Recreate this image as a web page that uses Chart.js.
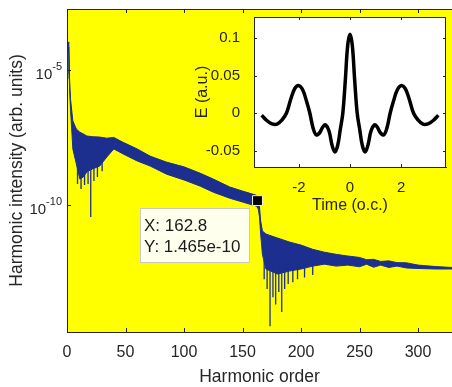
<!DOCTYPE html>
<html>
<head>
<meta charset="utf-8">
<script src="https://cdn.jsdelivr.net/npm/chart.js@4.4.0/dist/chart.umd.min.js"></script>
<style>
  html, body { margin: 0; padding: 0; background: #fff; }
  #wrap { position: relative; width: 452px; height: 387px; overflow: hidden; }
  #main { position: absolute; left: 0; top: 0; }
  #inset { position: absolute; left: 190px; top: 0; }
</style>
</head>
<body>
<div id="wrap">
  <canvas id="main" width="452" height="387" style="width:452px;height:387px"></canvas>
  <canvas id="inset" width="262" height="215" style="width:262px;height:215px"></canvas>
</div>
<script>
const FONT = "'Liberation Sans', Arial, Helvetica, sans-serif";
const INK = '#262626';
const BLUE = '#1c2f8e';

// spectrum band (harmonic order, upper and lower edge)
const harmX = [0, 0.8, 1.5, 2.2, 3, 5, 8, 11, 14, 17, 22, 28, 34, 40, 48, 60, 71, 85, 100, 114, 125, 139, 150, 162, 163.5, 164.5, 165.5, 167, 170, 180, 190, 200, 210, 220, 230, 240, 250, 256, 262, 268, 275, 282, 290, 300, 315, 329];
const bandUpper = [7.1e-6, 6.0e-5, 1.1e-4, 4.7e-6, 8.5e-7, 1.3e-7, 6.5e-8, 5.0e-8, 4.3e-8, 3.6e-8, 3.4e-8, 3.3e-8, 3.0e-8, 3.2e-8, 2.1e-8, 1.2e-8, 6.5e-9, 3.9e-9, 2.6e-9, 1.5e-9, 9.2e-10, 4.7e-10, 3.3e-10, 2.3e-10, 1.7e-10, 8.5e-11, 2.6e-11, 1.1e-11, 8.5e-12, 6.0e-12, 4.3e-12, 3.3e-12, 2.3e-12, 1.8e-12, 1.5e-12, 1.3e-12, 1.15e-12, 9.5e-13, 9.8e-13, 8.2e-13, 8.6e-13, 7.4e-13, 7.3e-13, 6.0e-13, 5.3e-13, 4.9e-13];
const bandLower = [4.7e-6, 3.9e-5, 7.1e-5, 2.0e-6, 3.6e-7, 1.2e-8, 3.3e-9, 9.2e-10, 1.1e-9, 1.7e-9, 2.2e-9, 2.8e-9, 6.0e-9, 1.2e-8, 7.8e-9, 4.3e-9, 2.8e-9, 1.4e-9, 8.5e-10, 5.0e-10, 3.0e-10, 1.8e-10, 1.3e-10, 9.1e-11, 7.1e-11, 3.6e-11, 8.5e-12, 1.5e-12, 4.3e-13, 2.8e-13, 3.6e-13, 4.3e-13, 5.5e-13, 6.5e-13, 5.5e-13, 6.0e-13, 5.2e-13, 6.5e-13, 5.0e-13, 6.0e-13, 4.9e-13, 5.5e-13, 4.7e-13, 4.5e-13, 4.3e-13, 4.3e-13];

// deep dips below the band
const dipX = [9, 12, 15, 18, 20.3, 23, 26, 30, 168.5, 171, 173.5, 176, 178.3, 181, 183.5, 186, 189, 193, 197, 203, 210];
const dipTop = [3e-9, 2e-9, 2e-9, 2e-9, 2e-9, 3e-9, 3e-9, 4e-9, 1e-12, 1e-12, 1e-12, 1e-12, 1e-12, 1e-12, 1e-12, 1e-12, 1e-12, 1e-12, 1e-12, 1e-12, 1e-12];
const dipBottom = [6.0e-10, 3.9e-10, 5.5e-10, 6.0e-10, 3.6e-11, 7.8e-10, 1.1e-9, 1.8e-9, 1.8e-13, 7.8e-14, 3.3e-15, 3.9e-14, 2.1e-14, 6.0e-14, 1.1e-14, 7.8e-14, 1.2e-13, 1.4e-13, 1.8e-13, 2.1e-13, 2.6e-13];

// data tip
const tipX = 162.8;
const tipY = 1.465e-10;

// main axes
const xTicks = [0, 50, 100, 150, 200, 250, 300];
const yTicks = [1e-5, 1e-10];
const yMin = 2.0e-15, yMax = 1.82e-3;

// inset: driving field
const timeOc = [-3.45, -3.25, -3.05, -2.85, -2.65, -2.48, -2.3, -2.15, -2.0, -1.85, -1.7, -1.57, -1.45, -1.33, -1.2, -1.05, -0.95, -0.82, -0.7, -0.59, -0.48, -0.38, -0.28, -0.18, -0.09, 0,
                0.09, 0.18, 0.28, 0.38, 0.48, 0.59, 0.7, 0.82, 0.95, 1.05, 1.2, 1.33, 1.45, 1.57, 1.7, 1.85, 2.0, 2.15, 2.3, 2.48, 2.65, 2.85, 3.05, 3.25, 3.45];
const fieldE = [-0.003, -0.010, -0.0145, -0.0148, -0.009, 0.0, 0.020, 0.033, 0.0365, 0.031, 0.016, 0.0, -0.019, -0.029, -0.027, -0.018, -0.016, -0.024, -0.043, -0.052, -0.043, -0.022, 0.0, 0.045, 0.090, 0.105,
                0.090, 0.045, 0.0, -0.022, -0.043, -0.052, -0.043, -0.024, -0.016, -0.018, -0.027, -0.029, -0.019, 0.0, 0.016, 0.031, 0.0365, 0.033, 0.020, 0.0, -0.009, -0.0148, -0.0145, -0.010, -0.003];
const insetXTicks = [-2, 0, 2];
const insetYTicks = [-0.05, 0, 0.05, 0.1];

const upperPts = harmX.map((h, i) => ({x: h, y: bandUpper[i]}));
const lowerPts = harmX.map((h, i) => ({x: h, y: bandLower[i]}));
const dipPts = [];
dipX.forEach((h, i) => {
  dipPts.push({x: h, y: dipTop[i]}, {x: h, y: dipBottom[i]}, {x: h, y: null});
});

// keep chart area edges where the figure has them
function noPad(s) {
  s.paddingLeft = 0; s.paddingRight = 0; s.paddingTop = 0; s.paddingBottom = 0;
}

/**
 * main figure decorations: yellow axes, inward ticks, 10^n labels, data tip box
*/
const mainDeco = {
  id: 'mainDeco',
  beforeDraw(chart) {
    const {ctx, chartArea: a} = chart;
    ctx.save();
    ctx.fillStyle = '#ffff00';
    ctx.fillRect(a.left, a.top, a.right - a.left, a.bottom - a.top);
    ctx.restore();
  },
  afterDraw(chart) {
    const {ctx, chartArea: a, scales: {x, y}} = chart;
    ctx.save();
    ctx.strokeStyle = INK;
    ctx.lineWidth = 1;
    ctx.beginPath();
    ctx.moveTo(a.left, a.top + 0.5);
    ctx.lineTo(a.right, a.top + 0.5);
    x.ticks.forEach(t => {
      const px = Math.round(x.getPixelForValue(t.value)) + 0.5;
      ctx.moveTo(px, a.bottom); ctx.lineTo(px, a.bottom - 4);
      ctx.moveTo(px, a.top); ctx.lineTo(px, a.top + 4);
    });
    y.ticks.forEach(t => {
      const py = Math.round(y.getPixelForValue(t.value)) + 0.5;
      ctx.moveTo(a.left, py); ctx.lineTo(a.left + 4, py);
    });
    ctx.stroke();

    ctx.fillStyle = INK;
    ctx.textBaseline = 'middle';
    ctx.textAlign = 'right';
    y.ticks.forEach(t => {
      const py = y.getPixelForValue(t.value);
      const exp = String(Math.round(Math.log10(t.value)));
      ctx.font = '11px ' + FONT;
      const ew = ctx.measureText(exp).width;
      ctx.fillText(exp, a.left - 5, py - 3);
      ctx.font = '15px ' + FONT;
      ctx.fillText('10', a.left - 5 - ew, py + 5);
    });

    const mx = x.getPixelForValue(tipX), my = y.getPixelForValue(tipY);
    const bx = Math.round(mx - 118), by = Math.round(my + 7);
    ctx.fillStyle = '#ffffee';
    ctx.fillRect(bx, by, 109, 54);
    ctx.strokeStyle = '#c9c9c0';
    ctx.strokeRect(bx + 0.5, by + 0.5, 109, 54);
    ctx.fillStyle = '#1a1a1a';
    ctx.font = '17px ' + FONT;
    ctx.textAlign = 'left';
    ctx.fillText('X: ' + tipX, bx + 4, by + 18);
    ctx.fillText('Y: ' + tipY.toExponential(3), bx + 4, by + 39);
    ctx.restore();
  }
};

const ctxMain = document.getElementById('main');
new Chart(ctxMain, {
  type: 'line',
  data: {
    datasets: [
      {
        data: upperPts,
        borderColor: BLUE,
        backgroundColor: BLUE,
        borderWidth: 1,
        pointRadius: 0,
        fill: '+1',
        order: 2,
      },
      {
        data: lowerPts,
        borderColor: BLUE,
        borderWidth: 1,
        pointRadius: 0,
        fill: false,
        order: 2,
      },
      {
        data: dipPts,
        borderColor: BLUE,
        borderWidth: 1.3,
        pointRadius: 0,
        spanGaps: false,
        fill: false,
        order: 1,
      },
      {
        data: [{x: tipX, y: tipY}],
        showLine: false,
        pointStyle: 'rect',
        pointRadius: 7,
        backgroundColor: '#000',
        borderColor: '#f4f4c8',
        borderWidth: 1,
        order: -1,
      },
    ],
  },
  plugins: [mainDeco],
  options: {
    responsive: false,
    animation: false,
    layout: { autoPadding: false, padding: { top: 9, right: 0, left: 0, bottom: 0 } },
    plugins: { legend: { display: false }, tooltip: { enabled: false } },
    scales: {
      x: {
        type: 'linear',
        min: 0,
        max: 329,
        grid: { display: false },
        border: { display: true, color: INK, width: 1 },
        ticks: { color: INK, font: { family: FONT, size: 16 }, padding: 3, maxRotation: 0, autoSkip: false },
        afterBuildTicks: s => { s.ticks = xTicks.map(v => ({value: v})); },
        afterFit: s => { s.height = 55; noPad(s); },
        title: { display: true, text: 'Harmonic order', color: INK, font: { family: FONT, size: 17.5 }, padding: { top: 0, bottom: -1 } },
      },
      y: {
        type: 'logarithmic',
        min: yMin,
        max: yMax,
        grid: { display: false },
        border: { display: true, color: INK, width: 1 },
        ticks: { display: false },
        afterBuildTicks: s => { s.ticks = yTicks.map(v => ({value: v})); },
        afterFit: s => { s.width = 67; noPad(s); },
        title: { display: true, text: 'Harmonic intensity (arb. units)', color: INK, font: { family: FONT, size: 17.5 }, padding: { top: 7, bottom: 0 } },
      },
    },
  },
});

/**
 * inset: white box, full frame, inward ticks
*/
const insetDeco = {
  id: 'insetDeco',
  beforeDraw(chart) {
    const {ctx, chartArea: a} = chart;
    ctx.save();
    ctx.fillStyle = '#ffffff';
    ctx.fillRect(a.left, a.top, a.right - a.left, a.bottom - a.top);
    ctx.restore();
  },
  afterDraw(chart) {
    const {ctx, chartArea: a, scales: {x, y}} = chart;
    ctx.save();
    ctx.strokeStyle = INK;
    ctx.lineWidth = 1;
    ctx.beginPath();
    ctx.moveTo(a.left, a.top + 0.5); ctx.lineTo(a.right, a.top + 0.5);
    ctx.moveTo(a.right - 0.5, a.top); ctx.lineTo(a.right - 0.5, a.bottom);
    x.ticks.forEach(t => {
      const px = Math.round(x.getPixelForValue(t.value)) + 0.5;
      ctx.moveTo(px, a.bottom); ctx.lineTo(px, a.bottom - 3);
      ctx.moveTo(px, a.top); ctx.lineTo(px, a.top + 3);
    });
    y.ticks.forEach(t => {
      const py = Math.round(y.getPixelForValue(t.value)) + 0.5;
      ctx.moveTo(a.left, py); ctx.lineTo(a.left + 3, py);
      ctx.moveTo(a.right, py); ctx.lineTo(a.right - 3, py);
    });
    ctx.stroke();
    ctx.restore();
  }
};

const ctxInset = document.getElementById('inset');
new Chart(ctxInset, {
  type: 'line',
  data: {
    datasets: [
      {
        data: timeOc.map((t, i) => ({x: t, y: fieldE[i]})),
        borderColor: '#000',
        borderWidth: 3.5,
        pointRadius: 0,
        tension: 0.4,
        fill: false,
      },
    ],
  },
  plugins: [insetDeco],
  options: {
    responsive: false,
    animation: false,
    layout: { autoPadding: false, padding: { top: 17, right: 6, left: 0, bottom: 0 } },
    plugins: { legend: { display: false }, tooltip: { enabled: false } },
    scales: {
      x: {
        type: 'linear',
        min: -3.75,
        max: 3.75,
        grid: { display: false },
        border: { display: true, color: INK, width: 1 },
        ticks: { color: INK, font: { family: FONT, size: 15 }, padding: 4, maxRotation: 0, autoSkip: false },
        afterBuildTicks: s => { s.ticks = insetXTicks.map(v => ({value: v})); },
        afterFit: s => { s.height = 48; noPad(s); },
        title: { display: true, text: 'Time (o.c.)', color: INK, font: { family: FONT, size: 16 }, padding: { top: 0, bottom: 0 } },
      },
      y: {
        type: 'linear',
        min: -0.072,
        max: 0.128,
        grid: { display: false },
        border: { display: true, color: INK, width: 1 },
        ticks: { color: INK, font: { family: FONT, size: 15 }, padding: 6, autoSkip: false, callback: v => String(v) },
        afterBuildTicks: s => { s.ticks = insetYTicks.map(v => ({value: v})); },
        afterFit: s => { s.width = 64; noPad(s); },
        title: { display: true, text: 'E (a.u.)', color: INK, font: { family: FONT, size: 16 }, padding: { top: 3, bottom: 0 } },
      },
    },
  },
});
</script>
</body>
</html>
